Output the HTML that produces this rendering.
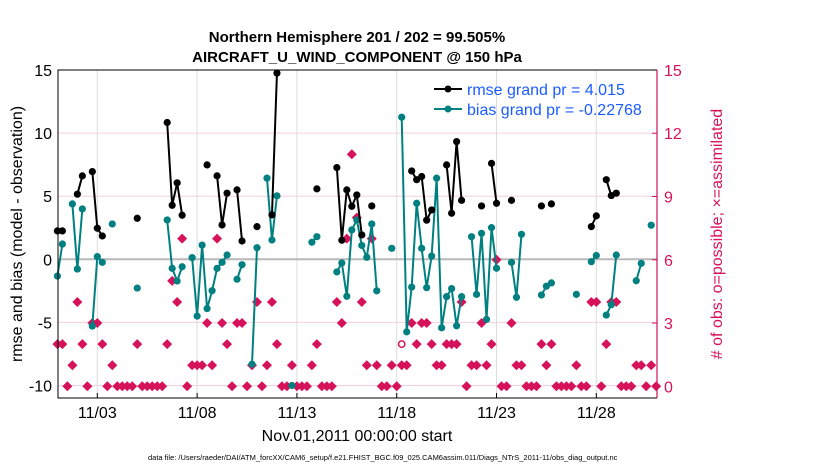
<!DOCTYPE html>
<html><head><meta charset="utf-8"><style>
body{margin:0;background:#fff;}
svg{display:block;font-family:"Liberation Sans",Arial,sans-serif;}
</style></head><body>
<svg id="chart" width="830" height="470" viewBox="0 0 830 470" xmlns="http://www.w3.org/2000/svg">
<rect x="0" y="0" width="830" height="470" fill="#fff"/>
<text x="357" y="42" text-anchor="middle" font-size="15" font-weight="bold">Northern Hemisphere 201 / 202 = 99.505%</text>
<text x="357" y="62" text-anchor="middle" font-size="15" font-weight="bold">AIRCRAFT_U_WIND_COMPONENT @ 150 hPa</text>
<g id="grid"></g>
<g id="marks"></g>
<g id="axes"></g>
<text transform="translate(22,234) rotate(-90)" text-anchor="middle" font-size="16">rmse and bias (model - observation)</text>
<text transform="translate(722,234) rotate(-90)" text-anchor="middle" font-size="16" fill="#d6125a"># of obs: o=possible; ×=assimilated</text>
<text x="357" y="441" text-anchor="middle" font-size="16">Nov.01,2011 00:00:00 start</text>
<text x="148" y="460" font-size="7.5">data file: /Users/raeder/DAI/ATM_forcXX/CAM6_setup/f.e21.FHIST_BGC.f09_025.CAM6assim.011/Diags_NTrS_2011-11/obs_diag_output.nc</text>
<g>
<line x1="434" y1="89" x2="462" y2="89" stroke="#000" stroke-width="2"/>
<circle cx="448" cy="89" r="3.5" fill="#000"/>
<text x="467" y="95" font-size="16" fill="#1a5cff">rmse grand pr = 4.015</text>
<line x1="434" y1="109" x2="462" y2="109" stroke="#008080" stroke-width="2"/>
<circle cx="448" cy="109" r="3.5" fill="#008080"/>
<text x="467" y="115" font-size="16" fill="#1a5cff">bias grand pr = -0.22768</text>
</g>
</svg>
<script>
// 6-hourly bins, index k = 0..120 starting Nov 01 00:00
const N = 121;
const rmsePoints = [[0,2.25],[1,2.25],[4,5.16],[5,6.61],[7,6.95],[8,2.46],[9,1.85],[16,3.25],[22,10.84],[23,4.28],[24,6.06],[25,3.49],[30,7.48],[32,6.61],[33,2.72],[34,5.24],[36,5.5],[37,1.45],[40,2.59],[43,3.52],[44,14.76],[52,5.58],[56,7.27],[57,1.51],[58,5.5],[59,4.2],[60,5.1],[61,1.93],[63,4.23],[71,7.0],[72,6.31],[73,6.56],[74,3.1],[75,3.91],[78,7.48],[79,3.65],[80,9.33],[81,4.67],[85,4.23],[87,7.6],[88,4.44],[91,4.67],[97,4.23],[99,4.39],[107,2.59],[108,3.44],[110,6.31],[111,5.05],[112,5.24]];
const biasPoints = [[0,-1.33],[1,1.21],[3,4.39],[4,-0.77],[5,3.99],[7,-5.29],[8,0.21],[9,-0.24],[11,2.8],[16,-2.28],[22,3.12],[23,-0.72],[24,-1.72],[25,-0.59],[27,0.13],[28,-4.5],[29,1.13],[30,-3.9],[31,-2.49],[32,-0.72],[33,-0.24],[34,0.34],[36,-1.58],[37,-0.43],[39,-8.31],[40,0.92],[42,6.43],[43,1.53],[44,5.03],[47,-10.0],[51,1.35],[52,1.79],[56,-1.0],[57,-0.29],[58,-2.93],[59,2.33],[60,3.12],[61,1.1],[62,0.16],[63,2.8],[64,-2.5],[67,0.87],[69,11.26],[70,-5.75],[71,-2.2],[72,4.44],[73,0.87],[74,-2.25],[75,0.26],[76,6.43],[77,-5.43],[78,-2.96],[79,-2.32],[80,-5.27],[81,-2.96],[83,1.79],[84,-2.78],[85,2.06],[86,-4.76],[87,2.51],[88,-0.71],[91,-0.24],[92,-3.01],[93,1.98],[97,-2.83],[98,-2.13],[99,-1.87],[104,-2.78],[107,-0.19],[108,0.3],[110,-4.42],[111,-3.6],[112,0.34],[116,-1.7],[117,-0.32],[119,2.7]];
const obsCounts = [2,2,0,1,4,2,0,3,3,2,0,1,0,0,0,0,2,0,0,0,0,0,2,5,4,7,0,1,1,1,3,1,7,3,2,0,3,3,0,1,4,0,1,4,2,0,0,1,0,0,0,1,2,0,0,0,4,3,7,11,8,4,1,7,1,0,0,1,0,1,1,3,2,3,3,2,1,1,2,2,2,4,0,1,1,3,1,2,6,0,0,3,1,1,0,0,0,2,1,2,0,0,0,0,1,0,0,4,4,0,2,4,4,0,0,0,1,1,0,1,0];
const possibleOnly = [[69,2]];
const xTickDays = [2,7,12,17,22,27];
const xTickLabels = ["11/03","11/08","11/13","11/18","11/23","11/28"];
const yTicksLeft = [-10,-5,0,5,10,15];
const yTicksRight = [0,3,6,9,12,15];

const NS="http://www.w3.org/2000/svg";
const L=58,R=657,T=70,B=398;
function xK(k){return 57.4+k*4.99;}
function xDay(d){return 57.4+d*19.96;}
function yV(v){return 259.3-v*12.62;}
function yC(c){return 386.3-c*21.09;}
function mk(tag,attrs,parent){const e=document.createElementNS(NS,tag);for(const a in attrs)e.setAttribute(a,attrs[a]);parent.appendChild(e);return e;}
const grid=document.getElementById('grid'),marks=document.getElementById('marks'),axes=document.getElementById('axes');

xTickDays.forEach((d,i)=>{
  const l=mk('line',{x1:xDay(d),x2:xDay(d),y1:T,y2:B,stroke:'#dcdcdc','stroke-width':1},grid);
  
  
  const t=mk('line',{x1:xDay(d),x2:xDay(d),y1:B,y2:B-5,stroke:'#000','stroke-width':1},axes);
  
  
  const tx=mk('text',{x:xDay(d),y:418,'text-anchor':'middle','font-size':16},axes);
  tx.textContent=xTickLabels[i];
  
  
});
yTicksLeft.forEach(v=>{
  if(v!==0&&v!==15){
    const g=mk('line',{x1:L,x2:R,y1:yV(v),y2:yV(v),stroke:'#f3d0de','stroke-width':1},grid);
    
    
  }
  const t=mk('text',{x:52,y:yV(v)+6,'text-anchor':'end','font-size':16},axes);
  t.textContent=v;
  
  
});
yTicksRight.forEach(c=>{
  const tk=mk('line',{x1:R,x2:R-5,y1:yC(c),y2:yC(c),stroke:'#d6125a','stroke-width':1},axes);
  
  
  const t=mk('text',{x:664,y:yC(c)+6,'font-size':16,fill:'#d6125a'},axes);
  t.textContent=c;
  
  
});
const zl=mk('line',{x1:L,x2:R,y1:yV(0),y2:yV(0),stroke:'#b8b8b8','stroke-width':2},grid);



// frame
const fr=mk('path',{d:`M${R},${T} L${L},${T} L${L},${B} L${R},${B}`,fill:'none',stroke:'#000','stroke-width':1},axes);


const ra=mk('line',{x1:R,x2:R,y1:T,y2:B,stroke:'#d6125a','stroke-width':1.2},axes);



// obs counts
obsCounts.forEach((c,k)=>{
  const x=xK(k),y=yC(c);
  const d=mk('path',{d:`M${x},${y-5} L${x+5},${y} L${x},${y+5} L${x-5},${y} Z`,fill:'#d6125a'},marks);
  
  
});
possibleOnly.forEach(p=>{
  const c=mk('circle',{cx:xK(p[0]),cy:yC(p[1]),r:3.2,fill:'none',stroke:'#d6125a','stroke-width':1.5},marks);
  
  
});

function series(pts,color,name){
  let seg=[];
  const segs=[];
  pts.forEach((p,i)=>{
    if(i>0&&p[0]!==pts[i-1][0]+1){segs.push(seg);seg=[];}
    seg.push(p);
  });
  segs.push(seg);
  segs.forEach(s=>{
    if(s.length>1){
      const pl=mk('polyline',{points:s.map(p=>xK(p[0])+','+yV(p[1])).join(' '),fill:'none',stroke:color,'stroke-width':2},marks);
      
      
    }
  });
  pts.forEach(p=>{
    const c=mk('circle',{cx:xK(p[0]),cy:yV(p[1]),r:3.6,fill:color},marks);
    
    
  });
}
series(biasPoints,'#008080','bias');
series(rmsePoints,'#000','rmse');
</script>
</body></html>
